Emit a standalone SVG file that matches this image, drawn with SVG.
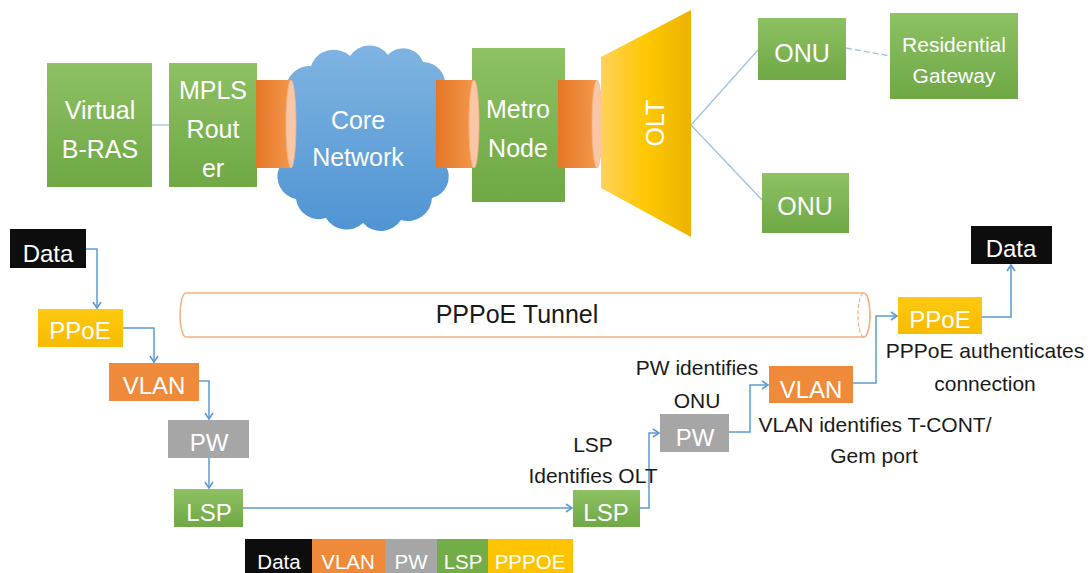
<svg xmlns="http://www.w3.org/2000/svg" width="1092" height="573" viewBox="0 0 1092 573">
<defs>
<style>
.t{font-family:"Liberation Sans",Arial,sans-serif;fill:#fff;text-anchor:middle}
.big{font-size:25px}
.mid{font-size:24px}
.lbl{font-family:"Liberation Sans",Arial,sans-serif;fill:#1a1a1a;text-anchor:middle;font-size:21px}
.tun{font-size:25px}
.leg{font-size:20.5px}
.con{fill:none;stroke:#5b9bd5;stroke-width:1.5}
.thin{fill:none;stroke:#9dc3e6;stroke-width:1.3}
.gr{fill:url(#gGreen)}
.orng{fill:#ef8a3a}
.gray{fill:#a6a6a6}
.yel{fill:url(#gYel)}
.blk{fill:#0d0d0d}
.cyl{fill:url(#gCyl)}
.cap{fill:#f9c6a6;stroke:#f6b48a;stroke-width:0.8}
</style>
<linearGradient id="gGreen" x1="0" y1="0" x2="0" y2="1"><stop offset="0" stop-color="#8dc163"/><stop offset="1" stop-color="#6fa845"/></linearGradient>
<linearGradient id="gYel" x1="0" y1="0" x2="0" y2="1"><stop offset="0" stop-color="#ffc911"/><stop offset="1" stop-color="#f7bb00"/></linearGradient>
<linearGradient id="gCyl" x1="0" y1="0" x2="1" y2="0"><stop offset="0" stop-color="#e57626"/><stop offset="1" stop-color="#f4974a"/></linearGradient>
<linearGradient id="gCloud" x1="0" y1="0" x2="0" y2="1"><stop offset="0" stop-color="#7fb4e2"/><stop offset="1" stop-color="#4f94d3"/></linearGradient>
<linearGradient id="gOlt" x1="0" y1="0" x2="1" y2="0"><stop offset="0" stop-color="#ffd25a"/><stop offset="0.5" stop-color="#ffc800"/><stop offset="1" stop-color="#ebb200"/></linearGradient>
<marker id="arr" markerWidth="10" markerHeight="10" refX="7.5" refY="5" orient="auto" markerUnits="userSpaceOnUse"><path d="M1.5,1 L7.5,5 L1.5,9" fill="none" stroke="#5b9bd5" stroke-width="1.6"/></marker>
</defs>
<rect width="1092" height="573" fill="#fff"/>

<g id="connectors">
<path class="thin" d="M152,125 H169"/>
<path class="thin" d="M691,125 L758,50"/>
<path class="thin" d="M691,125 L762,200"/>
<path class="thin" d="M846,48 L890,56" stroke-dasharray="6,3"/>
<path class="con" d="M86,249 H97 V308" marker-end="url(#arr)"/>
<path class="con" d="M123,328 H154 V362" marker-end="url(#arr)"/>
<path class="con" d="M199,381 H209 V419" marker-end="url(#arr)"/>
<path class="con" d="M209,458 V488" marker-end="url(#arr)"/>
<path class="con" d="M243,508 H572" marker-end="url(#arr)"/>
<path class="con" d="M640,508 H649 V433 H659" marker-end="url(#arr)"/>
<path class="con" d="M729,432 H750 V385 H768" marker-end="url(#arr)"/>
<path class="con" d="M853,383 H876 V316 H897" marker-end="url(#arr)"/>
<path class="con" d="M982,317 H1011 V265" marker-end="url(#arr)"/>
</g>

<g id="virtual-bras">
<rect class="gr" x="47" y="63" width="105" height="124"/>
<text class="t big" x="100" y="119">Virtual</text>
<text class="t big" x="100" y="158">B-RAS</text>
</g>

<g id="mpls-router">
<rect class="gr" x="169" y="63" width="88" height="124"/>
<text class="t big" x="213" y="99">MPLS</text>
<text class="t big" x="213" y="138">Rout</text>
<text class="t big" x="213" y="177">er</text>
</g>

<g id="core-network">
<path fill="url(#gCloud)" d="M288,100 A24,24 0 0 1 311,66 A24,24 0 0 1 350,56 A23,23 0 0 1 388,55 A21,21 0 0 1 423,62 A22,22 0 0 1 445,87 A24,24 0 0 1 449,125 A26,26 0 0 1 446,166 A22,22 0 0 1 432,198 A24,24 0 0 1 401,220 A24,24 0 0 1 363,223 A24,24 0 0 1 326,218 A23,23 0 0 1 296,199 A23,23 0 0 1 279,168 A23,23 0 0 1 278,132 A21,21 0 0 1 288,100 Z"/>
<text class="t big" x="358" y="129">Core</text>
<text class="t big" x="358" y="166">Network</text>
</g>

<g id="pipe-1">
<path class="cyl" d="M256,80 H291 V168 H256 Z"/>
<ellipse class="cap" cx="291" cy="124" rx="5" ry="44"/>
</g>

<g id="metro-node">
<rect class="gr" x="472" y="48" width="93" height="154"/>
<text class="t big" x="518" y="118">Metro</text>
<text class="t big" x="518" y="157">Node</text>
</g>

<g id="pipe-2">
<path class="cyl" d="M436,80 H474 V168 H436 Z"/>
<ellipse class="cap" cx="474" cy="124" rx="5" ry="44"/>
</g>

<g id="pipe-3">
<path class="cyl" d="M558,80 H597 V168 H558 Z"/>
<ellipse class="cap" cx="597" cy="124" rx="5" ry="44"/>
</g>

<g id="olt">
<path fill="url(#gOlt)" d="M601,57 L691,10 L691,237 L601,188 Z"/>
<text class="t big" transform="translate(664,123) rotate(-90)" x="0" y="0">OLT</text>
</g>

<g id="onu-1">
<rect class="gr" x="758" y="18" width="88" height="62"/>
<text class="t big" x="802" y="62">ONU</text>
</g>

<g id="residential-gateway">
<rect class="gr" x="890" y="13" width="128" height="86"/>
<text class="t" font-size="21" x="954" y="52">Residential</text>
<text class="t" font-size="21" x="954" y="83">Gateway</text>
</g>

<g id="onu-2">
<rect class="gr" x="762" y="173" width="87" height="60"/>
<text class="t big" x="805" y="215">ONU</text>
</g>

<g id="pppoe-tunnel">
<path d="M186,293 H864 A6,22 0 0 1 864,337 H186 A6,22 0 0 1 186,293 Z" fill="#fff" stroke="#f4b183" stroke-width="1.5"/>
<ellipse cx="864" cy="315" rx="6" ry="22" fill="none" stroke="#f4b183" stroke-width="1.2" stroke-dasharray="4,2"/>
<text class="lbl tun" x="517" y="323">PPPoE Tunnel</text>
</g>

<g id="data-src">
<rect class="blk" x="10" y="229" width="76" height="39"/>
<text class="t mid" x="48" y="262">Data</text>
</g>
<g id="ppoe-l">
<rect class="yel" x="38" y="309" width="85" height="38"/>
<text class="t mid" x="80" y="339">PPoE</text>
</g>
<g id="vlan-l">
<rect class="orng" x="109" y="363" width="90" height="38"/>
<text class="t mid" x="154" y="394">VLAN</text>
</g>
<g id="pw-l">
<rect class="gray" x="168" y="420" width="81" height="38"/>
<text class="t mid" x="209" y="451">PW</text>
</g>
<g id="lsp-l">
<rect class="gr" x="174" y="489" width="69" height="38"/>
<text class="t mid" x="209" y="521">LSP</text>
</g>

<g id="lsp-r">
<rect class="gr" x="573" y="490" width="67" height="37"/>
<text class="t mid" x="606" y="521">LSP</text>
<text class="lbl" x="593" y="452">LSP</text>
<text class="lbl" x="593" y="483">Identifies OLT</text>
</g>
<g id="pw-r">
<rect class="gray" x="660" y="414" width="69" height="38"/>
<text class="t mid" x="695" y="446">PW</text>
<text class="lbl" x="697" y="375">PW identifies</text>
<text class="lbl" x="697" y="408">ONU</text>
</g>
<g id="vlan-r">
<rect class="orng" x="769" y="366" width="84" height="37"/>
<text class="t mid" x="811" y="398">VLAN</text>
<text class="lbl" x="875" y="432">VLAN identifies T-CONT/</text>
<text class="lbl" x="874" y="463">Gem port</text>
</g>
<g id="ppoe-r">
<rect class="yel" x="898" y="297" width="84" height="37"/>
<text class="t mid" x="940" y="328">PPoE</text>
<text class="lbl" x="985" y="358">PPPoE authenticates</text>
<text class="lbl" x="985" y="391">connection</text>
</g>
<g id="data-dst">
<rect class="blk" x="971" y="226" width="81" height="38"/>
<text class="t mid" x="1011" y="257">Data</text>
</g>

<g id="legend">
<rect x="245" y="539" width="67" height="34" fill="#0d0d0d"/>
<rect x="312" y="539" width="73" height="34" fill="#ef8a3a"/>
<rect x="385" y="539" width="52" height="34" fill="#a6a6a6"/>
<rect x="437" y="539" width="51" height="34" fill="#72ad47"/>
<rect x="488" y="539" width="85" height="34" fill="#ffc400"/>
<text class="t leg" x="279" y="569">Data</text>
<text class="t leg" x="348" y="569">VLAN</text>
<text class="t leg" x="411" y="569">PW</text>
<text class="t leg" x="463" y="569">LSP</text>
<text class="t leg" x="530" y="569">PPPOE</text>
</g>
</svg>
